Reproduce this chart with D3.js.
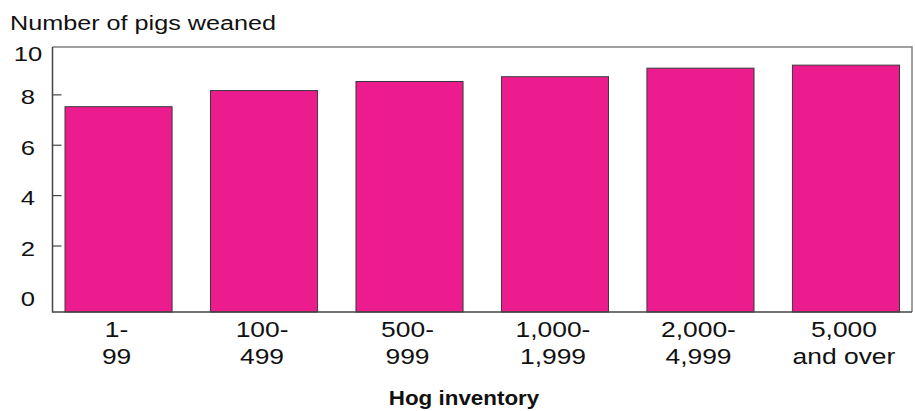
<!DOCTYPE html>
<html>
<head>
<meta charset="utf-8">
<script src="https://cdn.jsdelivr.net/npm/d3@7"></script>
<style>
  html, body { margin: 0; padding: 0; background: #fff; }
  svg { display: block; }
  text { font-family: "Liberation Sans", Arial, sans-serif; fill: #111; }
</style>
</head>
<body>
<svg id="chart" width="915" height="411"></svg>
<script>
const categoriesLine1 = ["1-", "100-", "500-", "1,000-", "2,000-", "5,000"];
const categoriesLine2 = ["99", "499", "999", "1,999", "4,999", "and over"];
const pigsWeaned = [7.53, 8.17, 8.53, 8.72, 9.06, 9.18];
const yTickValues = [0, 2, 4, 6, 8, 10];
const yTitle = "Number of pigs weaned";
const xTitle = "Hog inventory";

(function () {
const svg = d3.select("#chart");
const plotLeft = 52.5, plotRight = 912, plotTop = 47, plotBottom = 312;

const x = d3.scaleBand()
  .domain(d3.range(pigsWeaned.length))
  .range([plotLeft, plotRight])
  .paddingInner(0.264)
  .paddingOuter(0.086);

const y = d3.scaleLinear().domain([-0.62, 9.9]).range([plotBottom, plotTop]);

function stretchedText(g, xPos, yPos, str, size, sx, anchor, weight) {
  return g.append("g")
    .attr("transform", `translate(${xPos},${yPos}) scale(${sx},1)`)
    .append("text")
    .attr("font-size", size)
    .attr("font-weight", weight || "normal")
    .attr("text-anchor", anchor)
    .text(str);
}

// frame: top and right (lighter)
svg.append("path")
  .attr("d", `M${plotLeft},${plotTop}H${plotRight}V${plotBottom}`)
  .attr("fill", "none").attr("stroke", "#808080").attr("stroke-width", 1.5);

// bars
svg.selectAll("rect.bar").data(pigsWeaned).enter().append("rect")
  .attr("class", "bar")
  .attr("x", (d, i) => x(i))
  .attr("width", x.bandwidth())
  .attr("y", d => y(d))
  .attr("height", d => y.range()[0] - y(d))
  .attr("fill", "#EC1C8E")
  .attr("stroke", "#3a3a3a")
  .attr("stroke-width", 1);

// axes lines left and bottom
svg.append("path")
  .attr("d", `M${plotLeft},${plotTop}V${plotBottom}H${plotRight}`)
  .attr("fill", "none").attr("stroke", "#444").attr("stroke-width", 1.5);

// inward ticks
svg.selectAll("line.tick").data(yTickValues.filter(v => v > 0 && v < 10)).enter()
  .append("line")
  .attr("x1", plotLeft).attr("x2", plotLeft + 9)
  .attr("y1", d => y(d)).attr("y2", d => y(d))
  .attr("stroke", "#444").attr("stroke-width", 1.2);

// y tick labels
const yl = svg.append("g");
yTickValues.forEach(v => {
  const cy = Math.max(53, Math.min(302.5, y(v) + 2));
  stretchedText(yl, 28, cy + 7.5, String(v), 21, 1.22, "middle");
});

// y title
stretchedText(svg, 10, 30, yTitle, 21, 1.2, "start");

// x labels
const xl = svg.append("g");
pigsWeaned.forEach((d, i) => {
  const cx = x(i) + x.bandwidth() / 2 - 2;
  stretchedText(xl, cx, 337, categoriesLine1[i], 22, 1.2, "middle");
  stretchedText(xl, cx, 364, categoriesLine2[i], 22, 1.2, "middle");
});

// x title
stretchedText(svg, 464, 405, xTitle, 20, 1.12, "middle", "bold");
})();
</script>
</body>
</html>
